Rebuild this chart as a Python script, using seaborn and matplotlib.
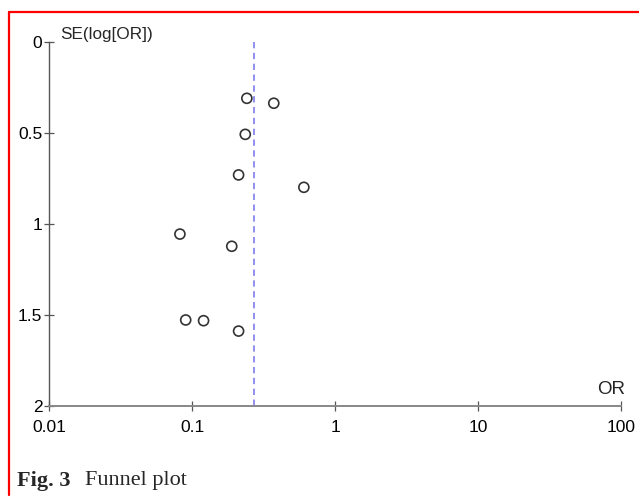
import matplotlib
matplotlib.use("Agg")
import matplotlib.pyplot as plt
import seaborn as sns
import pandas as pd
from matplotlib.lines import Line2D

# Data
odds_ratio = [0.241, 0.372, 0.235, 0.211, 0.604, 0.082, 0.189, 0.090, 0.120, 0.211]
se_log_or = [0.311, 0.338, 0.509, 0.732, 0.800, 1.057, 1.124, 1.529, 1.533, 1.590]
pooled_or = 0.270
x_ticks = [0.01, 0.1, 1, 10, 100]
x_tick_labels = ["0.01", "0.1", "1", "10", "100"]
y_ticks = [0, 0.5, 1, 1.5, 2]
y_tick_labels = ["0", "0.5", "1", "1.5", "2"]

df = pd.DataFrame({"OR": odds_ratio, "SE": se_log_or})

sns.set_theme(style="white")
plt.rcParams["font.family"] = ["Liberation Sans", "DejaVu Sans"]

fig = plt.figure(figsize=(6.39, 4.99), dpi=100)
ax = fig.add_axes([0.0772, 0.187, 0.8946, 0.7294])

sns.scatterplot(data=df, x="OR", y="SE", ax=ax, marker="o", s=52,
                facecolor="none", edgecolor="#333333", linewidth=1.2, zorder=3)

ax.plot([pooled_or, pooled_or], [0, 2], color="#8888ee", linestyle=(0, (3.5, 2.5)),
        linewidth=1.3, zorder=2)

ax.set_xscale("log")
ax.set_xlim(0.01, 100)
ax.set_ylim(2, 0)
ax.set_xticks(x_ticks)
ax.set_xticklabels(x_tick_labels)
ax.set_yticks(y_ticks)
ax.set_yticklabels(y_tick_labels)
ax.minorticks_off()
ax.set_xlabel("")
ax.set_ylabel("")

for s in ["top", "right"]:
    ax.spines[s].set_visible(False)
ax.spines["left"].set_color("#555555")
ax.spines["left"].set_linewidth(1.0)
ax.spines["bottom"].set_color("#888888")
ax.spines["bottom"].set_linewidth(1.4)
ax.tick_params(axis="y", direction="inout", length=7, width=0.9, color="#555555",
               labelsize=12.5, pad=1.5, labelcolor="black", left=True)
ax.tick_params(axis="x", direction="inout", length=7, width=0.9, color="#555555",
               labelsize=12.5, pad=6.5, labelcolor="black", bottom=True)
ax.set_facecolor("white")

fig.text(60 / 639, 1 - 35 / 499, "SE(log[OR])", fontsize=12.3, ha="left", va="center")
fig.text(611 / 639, 1 - 390 / 499, "OR", fontsize=13.5, ha="center", va="center")

fig.text(17 / 639, 1 - 481 / 499, "Fig. 3", fontsize=16, fontweight="bold",
         family="Liberation Serif", ha="left", va="center")
fig.text(85 / 639, 1 - 481 / 499, "Funnel plot", fontsize=16,
         family="Liberation Serif", ha="left", va="center")

# red frame (top and left edges)
fig.add_artist(Line2D([8.5 / 639, 8.5 / 639], [1 - 12 / 499, 1 - 495 / 499],
                      transform=fig.transFigure, color="red", linewidth=1.6))
fig.add_artist(Line2D([8.5 / 639, 1.0], [1 - 12 / 499, 1 - 12 / 499],
                      transform=fig.transFigure, color="red", linewidth=1.6))

fig.savefig("out.png", dpi=100, facecolor="white")
